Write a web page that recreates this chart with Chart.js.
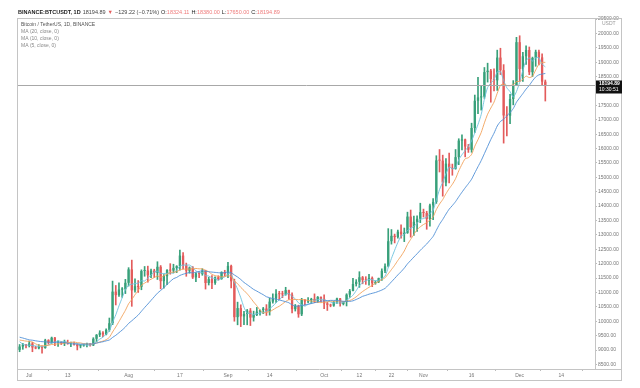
<!DOCTYPE html>
<html>
<head>
<meta charset="utf-8">
<script src="https://cdn.jsdelivr.net/npm/chart.js@4/dist/chart.umd.min.js"></script>
<style>
  html, body { margin: 0; padding: 0; background: #fff; }
  #wrap { width: 640px; height: 388px; }
</style>
</head>
<body>
<div id="wrap"><canvas id="myChart" width="640" height="388"></canvas></div>
<script>
// BTCUSDT daily, Jun 28 -> Dec 9 2020
const opens = [
 9005,9120,9190,
 9137,9228,9087,9058,9135,9069,9342,9253,9428,9277,9278,9240,9276,9243,9243,9188,9132,9151,9175,9213,9161,9390,9527,9603,9538,9700,9931,11029,10906,11100,11111,
 11335,11801,11071,11219,11191,11744,11762,11594,11761,11681,11892,11392,11564,11780,11760,11852,11911,12281,11945,11754,11866,11522,11664,11649,11751,11328,11462,11330,11526,11465,11711,
 11650,11924,11388,10141,10456,10167,10254,10369,10126,10219,10336,10387,10440,10333,10681,10786,10955,10940,10933,11080,10920,10418,10535,10241,10736,10686,10728,10775,10709,10844,
 10776,10619,10570,10542,10666,10792,10599,10666,10925,11050,11293,11369,11528,11429,11417,11505,11319,11360,11495,11751,11910,12780,12968,12923,13111,13029,13069,13636,13266,13455,13560,
 13791,13761,13550,14023,14145,15590,15579,14818,15475,15328,15297,15701,16276,16317,16069,15957,16713,17659,17776,17802,18655,18704,18414,18368,19160,18720,17149,17139,17719,18185,
 19695,18765,19205,19422,18650,19148,19360,19166,18324
];
const highs = [
 9191,9230,9200,
 9309,9269,9127,9189,9145,9375,9360,9450,9440,9317,9298,9345,9343,9279,9275,9216,9187,9200,9243,9220,9428,9540,9670,9637,9735,10111,11394,11242,11336,11170,11454,
 11861,12123,11473,11414,11786,11902,11914,11808,11806,12067,11935,11617,11792,12000,11980,11931,12468,12387,12020,11888,11900,11687,11718,11824,11772,11530,11590,11545,11580,11719,11770,
 12050,11950,11462,10663,10570,10342,10410,10443,10350,10480,10398,10480,10577,10800,10950,11100,11040,11041,11179,11080,10988,10582,10558,10795,10760,10820,10799,10950,10860,10849,
 10920,10664,10595,10690,10800,10798,10680,10955,11104,11492,11445,11720,11557,11547,11630,11541,11400,11500,11820,11990,13217,13185,13027,13166,13350,13238,13789,13863,13650,13663,14100,
 13895,13820,14067,14259,15750,15965,15770,15650,15840,15460,15965,16340,16480,16330,16142,16880,17858,18477,18179,18815,18965,18750,18766,19418,19484,18915,17457,17880,18360,19863,
 19918,19343,19566,19527,19177,19420,19420,19294,18380
];
const lows = [
 8940,9024,9069,
 9105,8940,9040,9035,8893,9058,9202,9231,9150,9125,9190,9150,9200,9113,9170,9002,9074,9128,9110,9131,9150,9281,9465,9460,9520,9650,9880,10565,10862,10831,10960,
 11220,10518,11012,11000,11093,11562,11356,11512,11521,11450,11125,11152,11270,11634,11680,11686,11770,11817,11561,11668,11482,11376,11514,11596,11117,11258,11135,11280,11430,11455,11570,
 11515,11160,10000,9875,9813,9882,9875,9850,10003,10192,10207,10262,10200,10212,10630,10656,10745,10820,10902,10761,10290,10353,10136,10194,10556,10644,10624,10645,10653,10671,
 10437,10374,10501,10516,10617,10525,10565,10530,10830,11050,11221,11176,11300,11280,11250,11200,11284,11340,11418,11688,11886,12678,12720,12885,12887,12765,13050,12920,12980,13120,13425,
 13620,13195,13300,13525,14093,15185,14344,14703,14805,15072,15280,15438,15952,15710,15865,15870,16557,17215,17335,17740,18308,17610,18000,18018,18570,16188,16438,16865,17517,18185,
 18330,18330,18925,18565,18500,18857,18902,18200,17650
];
const closes = [
 9120,9190,9137,
 9228,9087,9058,9135,9069,9342,9253,9428,9277,9278,9240,9276,9243,9243,9188,9132,9151,9175,9213,9161,9390,9527,9603,9538,9700,9931,11029,10906,11100,11111,11335,
 11801,11071,11219,11191,11744,11762,11594,11761,11681,11892,11392,11564,11780,11760,11852,11911,12281,11945,11754,11866,11522,11664,11649,11751,11328,11462,11330,11526,11465,11711,11650,
 11924,11388,10141,10456,10167,10254,10369,10126,10219,10336,10387,10440,10333,10681,10786,10955,10940,10933,11080,10920,10418,10535,10241,10736,10686,10728,10775,10709,10844,10776,
 10619,10570,10542,10666,10792,10599,10666,10925,11050,11293,11369,11528,11429,11417,11505,11319,11360,11495,11751,11910,12780,12968,12923,13111,13029,13069,13636,13266,13455,13560,13791,
 13761,13550,14023,14145,15590,15579,14818,15475,15328,15297,15701,16276,16317,16069,15957,16713,17659,17776,17802,18655,18704,18414,18368,19160,18720,17149,17139,17719,18185,19695,
 18765,19205,19422,18650,19148,19360,19166,18324,18194.89
];
// closes of the days before Jun 28, only used to start the moving averages
const juneCloses = [9770,9780,9880,9320,9470,9470,9340,9430,9520,9460,9390,9310,9360,9290,9680,9620,9290,9250,9160];

const priceTicks = [8500,9000,9500,10000,10500,11000,11500,12000,12500,13000,13500,14000,14500,15000,15500,16000,16500,17000,17500,18000,18500,19000,19500,20000,20500];

const tickDays  = ['Jul 1','Jul 13','Aug 1','Aug 17','Sep 1','Sep 14','Oct 1','Oct 12','Oct 22','Nov 1','Nov 16','Dec 1','Dec 14'];
const tickTexts = ['Jul','13','Aug','17','Sep','14','Oct','12','22','Nov','16','Dec','14'];

// day labels Jun 28 .. Dec 24
const months = ['Jan','Feb','Mar','Apr','May','Jun','Jul','Aug','Sep','Oct','Nov','Dec'];
const dates = [];
for (let d = new Date(2020,5,28); d <= new Date(2020,11,24); d.setDate(d.getDate()+1)) {
  dates.push(months[d.getMonth()] + ' ' + d.getDate());
}

const UP = '#38a07a', DOWN = '#e35b5b';

function sma(n) {
  const all = juneCloses.concat(closes);
  const off = juneCloses.length;
  return closes.map((c,i)=>{
    let s = 0;
    for (let k = off+i-n+1; k <= off+i; k++) s += all[k];
    return s/n;
  });
}

const candleColor = c => {
  const i = c.dataIndex;
  return closes[i] >= opens[i] ? UP : DOWN;
};

const ctx = document.getElementById('myChart').getContext('2d');

const frame = {
  id:'frame',
  afterDraw(chart){
    const c = chart.ctx, a = chart.chartArea, y = chart.scales.y;
    c.save();
    // last price line
    const lp = closes[closes.length-1];
    const py = Math.round(y.getPixelForValue(lp)) + 0.5;
    c.strokeStyle = '#a8a8a8'; c.lineWidth = 1;
    c.beginPath(); c.moveTo(a.left, py); c.lineTo(a.right, py); c.stroke();
    // outer frame
    c.strokeStyle = '#c4c4c4';
    c.strokeRect(17.5, 18.5, 604, 362);
    c.beginPath(); c.moveTo(17.5, 369.5); c.lineTo(621.5, 369.5); c.stroke();
    // price label
    c.fillStyle = '#111';
    c.fillRect(a.right+1, py-5, 26, 13);
    c.fillStyle = '#fff';
    c.font = 'bold 5px "Liberation Sans", Arial';
    c.textBaseline = 'middle'; c.textAlign = 'left';
    c.fillText(lp.toFixed(2), a.right+4, py-1.5);
    c.font = '5px "Liberation Sans", Arial';
    c.fillText('10:30:51', a.right+4, py+4.5);
    c.fillStyle = '#999';
    c.fillText('USDT', a.right+7, 24);
    // header
    let x = 18;
    const seg = (t, col, f) => {
      c.font = f || '5.5px "Liberation Sans", Arial';
      c.fillStyle = col;
      c.fillText(t, x, 12);
      x += c.measureText(t).width + 2;
    };
    seg('BINANCE:BTCUSDT, 1D', '#222', 'bold 5.5px "Liberation Sans", Arial');
    seg('18194.89', '#444');
    seg('\u25BC', DOWN);
    seg('\u2212129.22 (\u22120.71%)', '#444');
    seg('O:', '#222'); x -= 2; seg('18324.11', '#ef7b7b');
    seg('H:', '#222'); x -= 2; seg('18380.00', '#ef7b7b');
    seg('L:', '#222'); x -= 2; seg('17650.00', '#ef7b7b');
    seg('C:', '#222'); x -= 2; seg('18194.89', '#ef7b7b');
    // legend
    c.font = '5px "Liberation Sans", Arial';
    c.fillStyle = '#555';
    c.fillText('Bitcoin / TetherUS, 1D, BINANCE', 21, 25);
    c.fillStyle = '#888';
    c.fillText('MA (20, close, 0)', 21, 32);
    c.fillText('MA (10, close, 0)', 21, 39);
    c.fillText('MA (5, close, 0)', 21, 46);
    c.restore();
  }
};

const data = {
  labels: dates,
  datasets: [
    { type:'line', label:'MA20', data: sma(20), borderColor:'#4f8fd6', borderWidth:0.9, pointRadius:0, tension:0.2, order:0 },
    { type:'line', label:'MA10', data: sma(10), borderColor:'#f2a15a', borderWidth:0.9, pointRadius:0, tension:0.2, order:0 },
    { type:'line', label:'MA5',  data: sma(5),  borderColor:'#6cc2de', borderWidth:0.9, pointRadius:0, tension:0.2, order:0 },
    { label:'wick', data: lows.map((l,i)=>[l, highs[i]]), backgroundColor: candleColor, barThickness:1, grouped:false, order:2 },
    { label:'body', data: opens.map((o,i)=>[o, closes[i]]), backgroundColor: candleColor, barPercentage:0.72, categoryPercentage:1, grouped:false, minBarLength:1, order:1 }
  ]
};

const config = {
  type:'bar',
  data: data,
  plugins:[frame],
  options:{
    responsive:false,
    animation:false,
    layout:{ padding:{ left:18, right:18, top:19, bottom:7 } },
    plugins:{ legend:{ display:false }, tooltip:{ enabled:false } },
    scales:{
      x:{
        offset:true,
        grid:{ display:true, drawOnChartArea:false, drawTicks:true, tickLength:2, color:'#bbb' },
        border:{ display:false },
        afterFit(s){ s.height = 12; },
        ticks:{
          autoSkip:false, maxRotation:0, padding:2,
          color:'#777', font:{ size:5, family:'"Liberation Sans", Arial' },
          callback(v, i){
            const k = tickDays.indexOf(dates[i]);
            return k < 0 ? null : tickTexts[k];
          }
        }
      },
      y:{
        position:'right',
        min:8340, max:20500,
        grid:{ drawOnChartArea:false, drawTicks:true, tickLength:2, color:'#bbb' },
        border:{ display:true, color:'#c4c4c4' },
        afterFit(s){ s.width = 27; },
        afterBuildTicks(s){ s.ticks = priceTicks.map(v => ({ value: v })); },
        ticks:{
          padding:1,
          color:'#777', font:{ size:5, family:'"Liberation Sans", Arial' },
          callback(v){ return v.toFixed(2); }
        }
      }
    }
  }
};

const mychart = new Chart(ctx, config);
</script>
</body>
</html>
